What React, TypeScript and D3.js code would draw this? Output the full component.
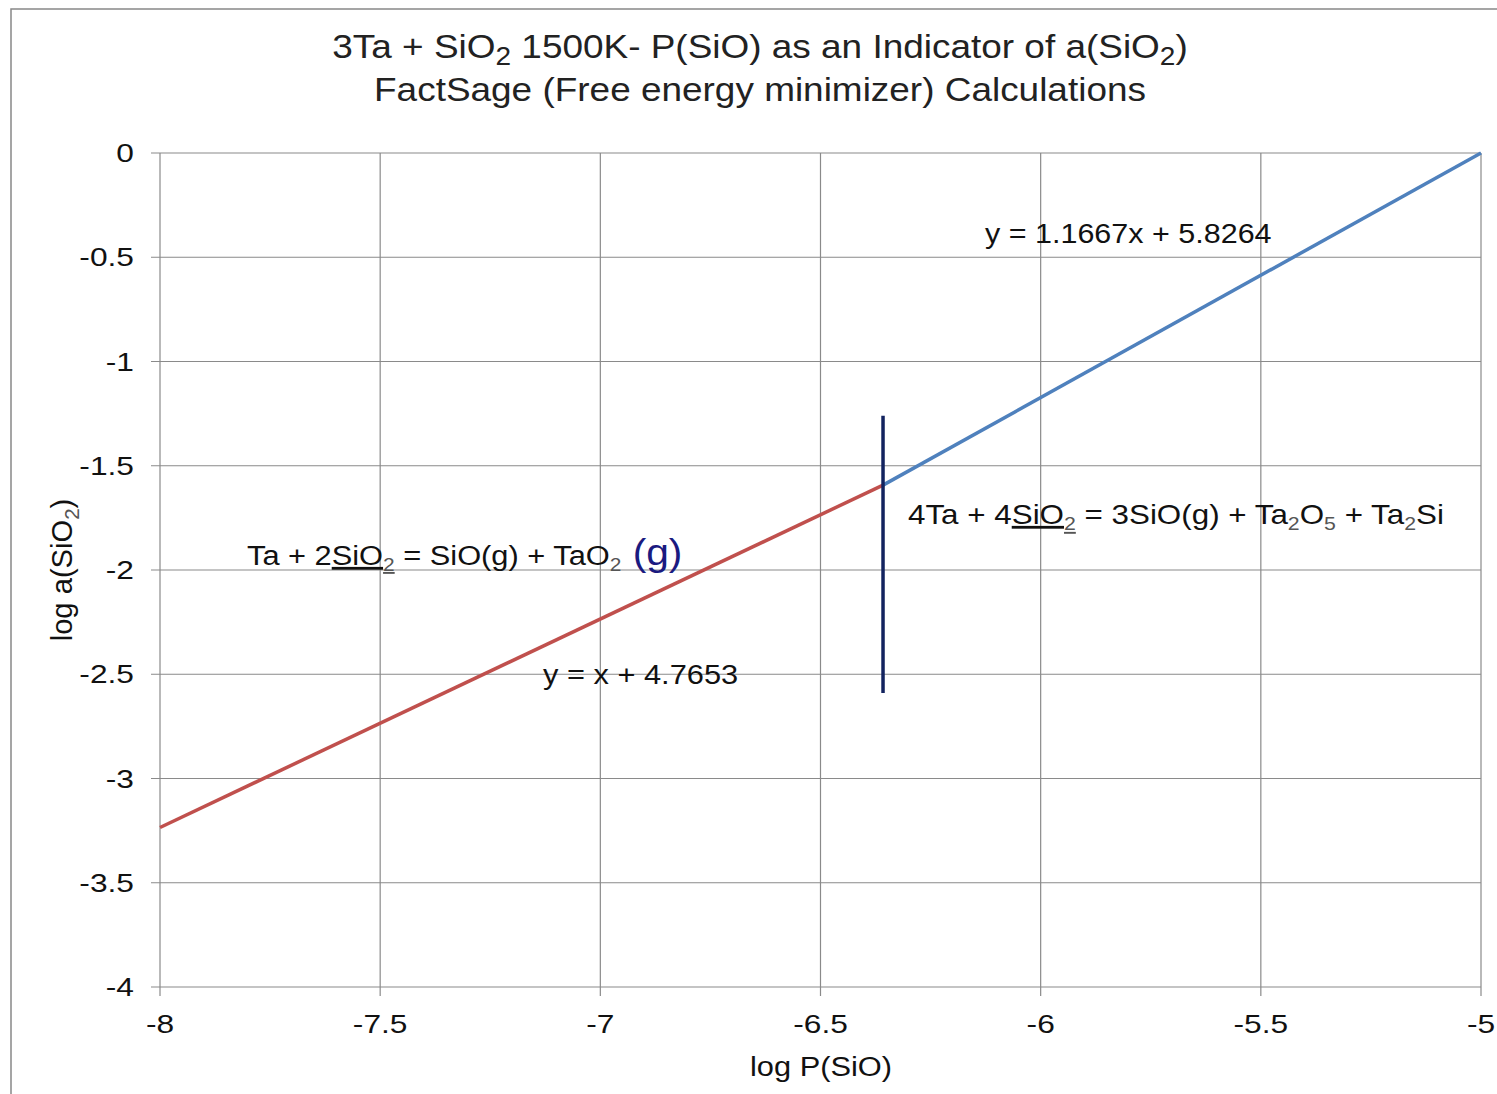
import React from "react";
import * as d3 from "d3";

const xTicks = [-8, -7.5, -7, -6.5, -6, -5.5, -5];
const yTicks = [0, -0.5, -1, -1.5, -2, -2.5, -3, -3.5, -4];
const redX = [-8, -6.358];
const redY = [-3.235, -1.593];
const blueX = [-6.358, -5];
const blueY = [-1.593, 0];
const dividerX = [-6.358, -6.358];
const dividerY = [-1.26, -2.59];

const W = 1497, H = 1094;
const FONT = "'Liberation Sans', Arial, sans-serif";

function T({ x, y, sx = 1.12, anchor = "start", size, fill = "#111", children }: any) {
  return (
    <text transform={`translate(${x},${y}) scale(${sx},1)`} textAnchor={anchor} fontSize={size} fill={fill}>
      {children}
    </text>
  );
}

export default function App() {
  const x = d3.scaleLinear().domain([-8, -5]).range([160, 1481]);
  const y = d3.scaleLinear().domain([-4, 0]).range([987, 153]);
  const line = d3.line<[number, number]>().x(d => x(d[0])).y(d => y(d[1]));
  const pts = (xs: number[], ys: number[]) => xs.map((v, i) => [v, ys[i]] as [number, number]);
  const sub = { fontSize: 19, fill: "#555" };
  return (
    <svg width={W} height={H} style={{ position: "absolute", left: 0, top: 0, background: "#fff" }} fontFamily={FONT}>
      <rect x={11} y={9} width={1500} height={1100} fill="none" stroke="#888" strokeWidth={1.5} />
      {yTicks.map(t => (
        <line key={"gy" + t} x1={151} x2={1481} y1={y(t)} y2={y(t)} stroke="#8a8a8a" strokeWidth={1.2} />
      ))}
      {xTicks.map(t => (
        <line key={"gx" + t} x1={x(t)} x2={x(t)} y1={153} y2={996} stroke="#8a8a8a" strokeWidth={1.2} />
      ))}
      {yTicks.map(t => (
        <T key={"ly" + t} x={134} y={y(t) + 9} sx={1.22} anchor="end" size={26}>{String(t)}</T>
      ))}
      {xTicks.map(t => (
        <T key={"lx" + t} x={x(t)} y={1033} sx={1.22} anchor="middle" size={26}>{String(t)}</T>
      ))}
      <T x={821} y={1076} anchor="middle" size={28} sx={1.1}>log P(SiO)</T>
      <text transform="translate(72,570) rotate(-90) scale(1.08,1.1)" textAnchor="middle" fontSize={27} fill="#111">
        log a(SiO<tspan dy={6} fontSize={19} fill="#555">2</tspan><tspan dy={-6}>)</tspan>
      </text>
      <T x={760} y={58} anchor="middle" size={33} fill="#222">
        3Ta + SiO<tspan dy={7} fontSize={25}>2</tspan><tspan dy={-7}> 1500K- P(SiO) as an Indicator of a(SiO</tspan><tspan dy={7} fontSize={25}>2</tspan><tspan dy={-7}>)</tspan>
      </T>
      <T x={760} y={101} anchor="middle" size={33} fill="#222">FactSage (Free energy minimizer) Calculations</T>
      <path d={line(pts(redX, redY)) || ""} fill="none" stroke="#C0504D" strokeWidth={3.5} />
      <path d={line(pts(blueX, blueY)) || ""} fill="none" stroke="#4F81BD" strokeWidth={3.5} />
      <path d={line(pts(dividerX, dividerY)) || ""} fill="none" stroke="#13235f" strokeWidth={3.5} />
      <T x={985} y={243} size={28} sx={1.09}>y = 1.1667x + 5.8264</T>
      <T x={543} y={684} size={28} sx={1.1}>y = x + 4.7653</T>
      <T x={247} y={565} size={28} sx={1.1}>
        Ta + 2<tspan textDecoration="underline">SiO</tspan><tspan dy={6} {...sub} textDecoration="underline">2</tspan><tspan dy={-6}> = SiO(g) + TaO</tspan><tspan dy={6} {...sub}>2</tspan><tspan dy={-6} fill="#1a1a80" fontSize={37}> (g)</tspan>
      </T>
      <T x={908} y={524} size={28}>
        4Ta + 4<tspan textDecoration="underline">SiO</tspan><tspan dy={6} {...sub} textDecoration="underline">2</tspan><tspan dy={-6}> = 3SiO(g) + Ta</tspan><tspan dy={6} {...sub}>2</tspan><tspan dy={-6}>O</tspan><tspan dy={6} {...sub}>5</tspan><tspan dy={-6}> + Ta</tspan><tspan dy={6} {...sub}>2</tspan><tspan dy={-6}>Si</tspan>
      </T>
    </svg>
  );
}
